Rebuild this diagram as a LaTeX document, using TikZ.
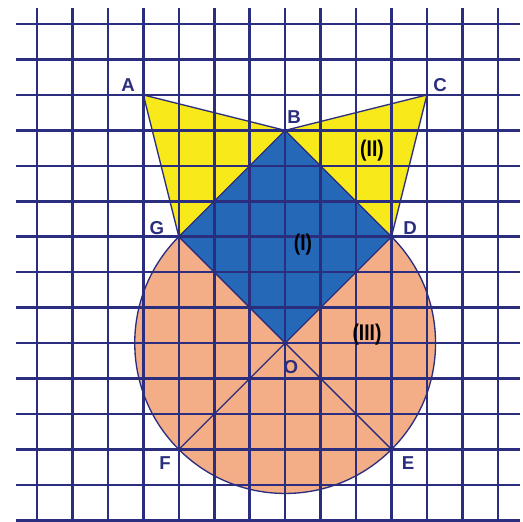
\documentclass[tikz,border=0pt]{standalone}
\usepackage{fontspec}
\setsansfont{Liberation Sans}
\definecolor{gridnavy}{RGB}{43,46,126}
\definecolor{figyellow}{RGB}{248,234,26}
\definecolor{figblue}{RGB}{38,104,184}
\definecolor{figsalmon}{RGB}{243,174,135}
\tikzset{every picture/.style={line width=0.75pt}}
\tikzset{
  gridline/.style={draw=gridnavy, line width=1.9pt},
  edge/.style={draw=gridnavy, line width=1pt},
  ptlabel/.style={inner sep=0.75pt, text=gridnavy, font=\sffamily\bfseries\fontsize{14}{14}\selectfont},
  partlabel/.style={inner sep=0.75pt, text=black, font=\sffamily\bfseries\fontsize{17}{17}\selectfont, xscale=0.85}
}

\begin{document}
\begin{tikzpicture}[x=0.75pt,y=0.75pt,yscale=-1,xscale=1]
	\useasboundingbox (0,0) rectangle (523,521);
	\fill [white] (0,0) rectangle (523,521);
	
	%Points
	\coordinate (A) at (143.35,94.9);
	\coordinate (B) at (285.15,130.35);
	\coordinate (C) at (426.95,94.9);
	\coordinate (G) at (178.8,236.7);
	\coordinate (D) at (391.5,236.7);
	\coordinate (O) at (285.15,343.05);
	\coordinate (F) at (178.8,449.4);
	\coordinate (E) at (391.5,449.4);
	
	%Shape (II)
	\fill [figyellow] (A) -- (B) -- (C) -- (D) -- (G) -- cycle;
	%Circle (III)
	\filldraw [figsalmon, edge] (O) circle [radius=150.4];
	%Square (I)
	\fill [figblue] (B) -- (D) -- (O) -- (G) -- cycle;
	
	%Grid
	\foreach \i in {0,...,13}
	  \draw [gridline] (37+35.45*\i,8) -- (37+35.45*\i,521);
	\foreach \j in {0,...,14}
	  \draw [gridline] (16,24+35.45*\j) -- (520,24+35.45*\j);
	
	%Outlines
	\draw [edge] (A) -- (B) -- (C) -- (D) ;
	\draw [edge] (A) -- (G) ;
	\draw [edge] (B) -- (G) ;
	\draw [edge] (B) -- (D) ;
	%Diameters
	\draw [edge] (G) -- (O) -- (E) ;
	\draw [edge] (D) -- (O) -- (F) ;
	
	% Text Node
	\node [ptlabel] (lblA) at (128,85) {A};
	% Text Node
	\node [ptlabel] (lblB) at (294,117) {B};
	% Text Node
	\node [ptlabel] (lblC) at (440,85) {C};
	% Text Node
	\node [ptlabel] (lblG) at (157,228) {G};
	% Text Node
	\node [ptlabel] (lblD) at (410,228) {D};
	% Text Node
	\node [ptlabel] (lblO) at (291,367) {O};
	% Text Node
	\node [ptlabel] (lblF) at (165,463) {F};
	% Text Node
	\node [ptlabel] (lblE) at (408,463) {E};
	% Text Node
	\node [partlabel] (lblII) at (372,151) {(II)};
	% Text Node
	\node [partlabel] (lblI) at (303,245) {(I)};
	% Text Node
	\node [partlabel] (lblIII) at (367,335) {(III)};
	
\end{tikzpicture}
\end{document}
